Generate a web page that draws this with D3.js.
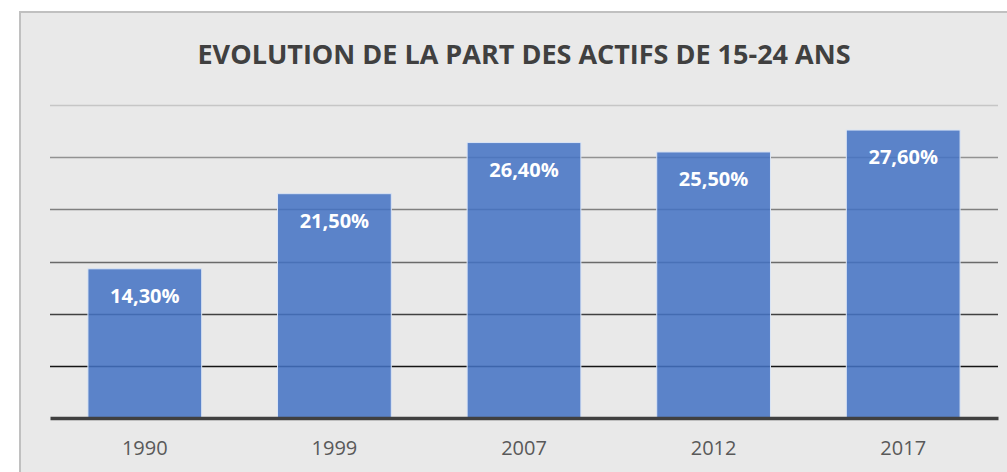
<!DOCTYPE html>
<html>
<head>
<meta charset="utf-8">
<script src="https://cdn.jsdelivr.net/npm/d3@7"></script>
<style>
  body { margin: 0; background: #fff; }
  text { font-family: "Open Sans", sans-serif; }
</style>
</head>
<body>
<div id="main"></div>
<script>
var years = ["1990", "1999", "2007", "2012", "2017"];
var values = [14.3, 21.5, 26.4, 25.5, 27.6];
var ticks = [5, 10, 15, 20, 25, 30];
var title = "EVOLUTION DE LA PART DES ACTIFS DE 15-24 ANS";

var width = 1007, height = 472;
var margin = { top: 105, right: 9, bottom: 54, left: 50 };

// grid colours go darker toward the bottom, like the picture
var gridColor = d3.scaleLinear()
  .domain([5, 10, 15, 20, 25, 30])
  .range(["#151515", "#404040", "#6a6a6a", "#7f7f7f", "#929292", "#c6c6c6"]);

var svg = d3.select("#main").append("svg")
  .attr("width", width)
  .attr("height", height);

svg.append("rect")
  .attr("x", 20).attr("y", 12)
  .attr("width", width + 20).attr("height", height + 20)
  .attr("fill", "#e9e9e9")
  .attr("stroke", "#c0c0c0")
  .attr("stroke-width", 2);

var x = d3.scaleBand()
  .domain(years)
  .range([margin.left, width - margin.right])
  .paddingInner(0.4)
  .paddingOuter(0.2);

var y = d3.scaleLinear()
  .domain([0, 30])
  .range([height - margin.bottom, margin.top]);

svg.append("text")
  .attr("x", 524)
  .attr("y", 64)
  .attr("text-anchor", "middle")
  .attr("font-size", 27)
  .attr("font-weight", "bold")
  .attr("fill", "#404040")
  .text(title);

// gridlines
svg.append("g")
  .selectAll("line")
  .data(ticks)
  .enter().append("line")
  .attr("x1", margin.left)
  .attr("x2", width - margin.right)
  .attr("y1", function (d) { return Math.round(y(d)) + 0.5; })
  .attr("y2", function (d) { return Math.round(y(d)) + 0.5; })
  .attr("stroke", function (d) { return gridColor(d); })
  .attr("stroke-width", 1.6);

// bars, a bit see-through so the grid shows
svg.append("g")
  .selectAll("rect")
  .data(values)
  .enter().append("rect")
  .attr("x", function (d, i) { return x(years[i]); })
  .attr("y", function (d) { return y(d); })
  .attr("width", x.bandwidth())
  .attr("height", function (d) { return y(0) - y(d); })
  .attr("fill", "#4472c4")
  .attr("fill-opacity", 0.86)
  .attr("stroke", "#dbe5f5")
  .attr("stroke-width", 1);

svg.append("g")
  .selectAll("text")
  .data(values)
  .enter().append("text")
  .attr("x", function (d, i) { return x(years[i]) + x.bandwidth() / 2; })
  .attr("y", function (d) { return y(d) + 34; })
  .attr("text-anchor", "middle")
  .attr("font-size", 20)
  .attr("font-weight", "bold")
  .attr("fill", "#fff")
  .text(function (d) { return d.toFixed(2).replace(".", ",") + "%"; });

// baseline + year labels
var xAxis = svg.append("g")
  .attr("transform", "translate(0," + y(0) + ")")
  .call(d3.axisBottom(x).tickSize(0).tickPadding(0));
xAxis.select(".domain")
  .attr("stroke", "#404040")
  .attr("stroke-width", 3.5);
xAxis.selectAll(".tick text")
  .attr("y", 37)
  .attr("dy", 0)
  .attr("font-family", "Open Sans, sans-serif")
  .attr("font-size", 20)
  .attr("fill", "#595959");
</script>
</body>
</html>
